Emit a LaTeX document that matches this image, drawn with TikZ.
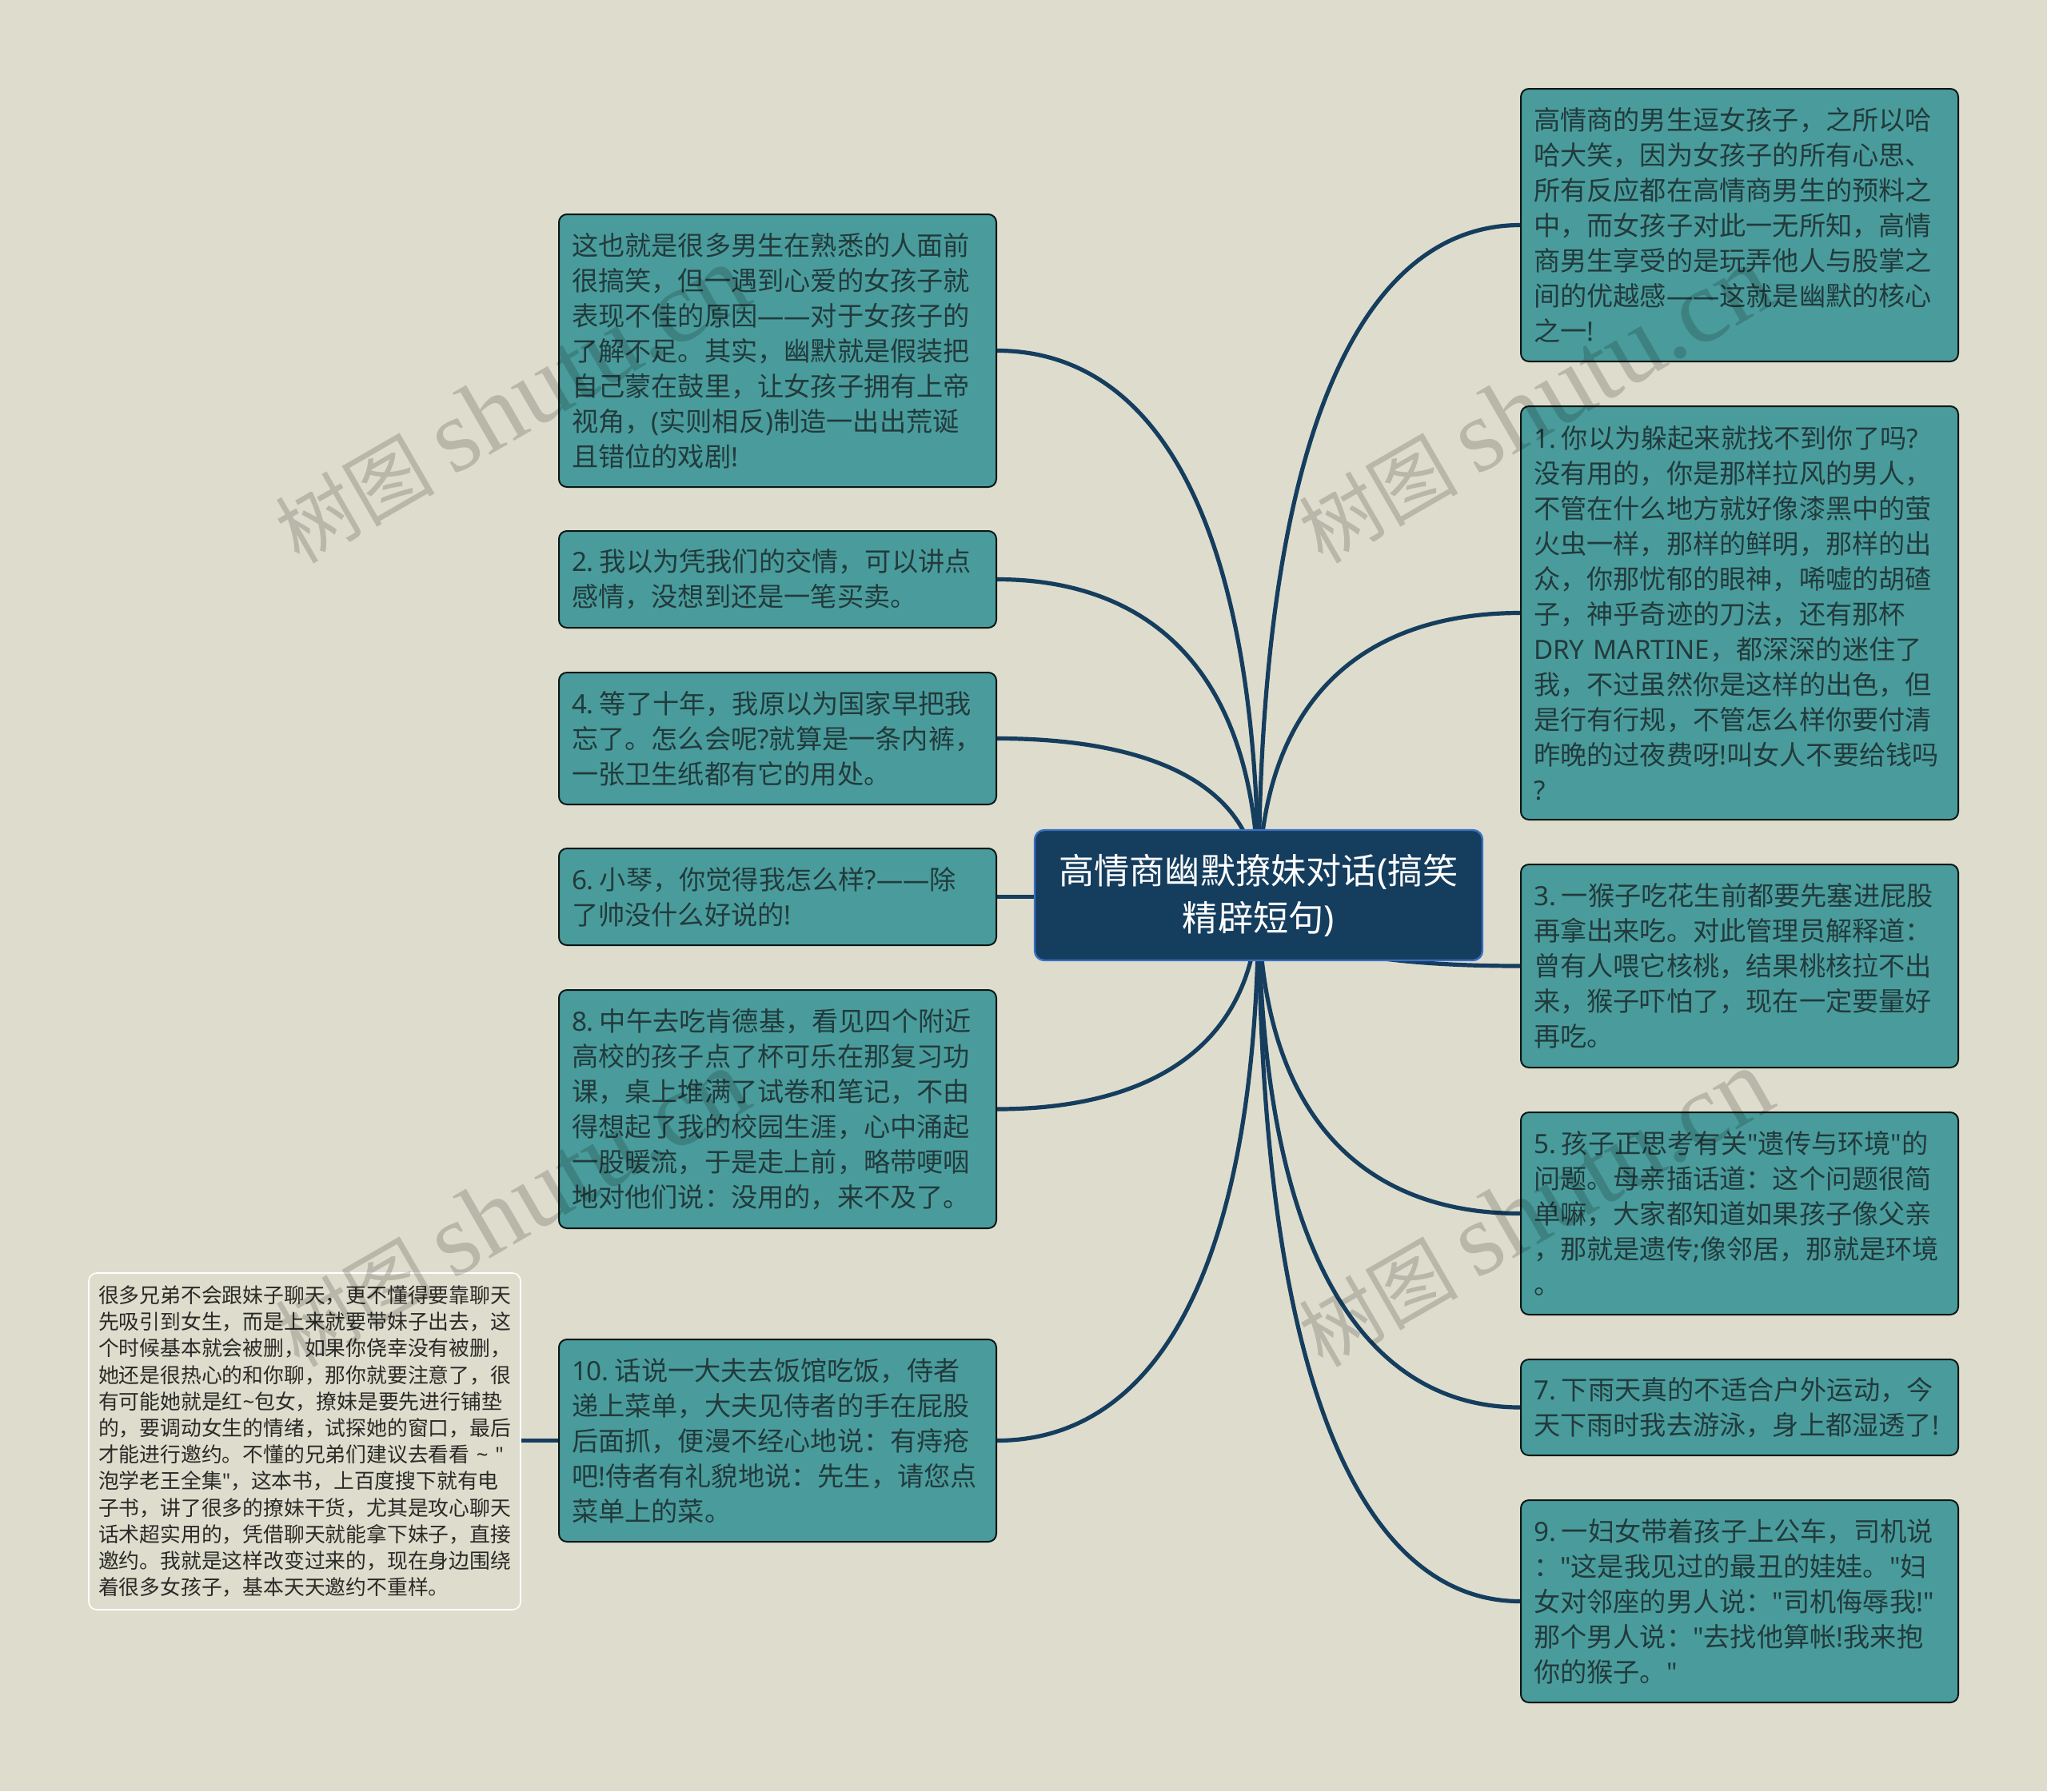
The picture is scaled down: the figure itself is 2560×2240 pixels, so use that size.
\documentclass[tikz,border=0pt]{standalone}
\usepackage{fontspec}
\usetikzlibrary{calc}
\setmainfont{Noto Sans CJK SC}
\newfontfamily\bodyf{Noto Sans CJK SC}
\newfontfamily\lat{Noto Sans}
\newfontfamily\wmserif{Liberation Serif}
\newcommand{\La}[1]{{\lat #1}}
\newcommand{\Ln}[1]{{\lat #1}\hspace{.21em}}
\definecolor{bgc}{HTML}{DEDDCD}
\definecolor{tealc}{HTML}{4A9C9C}
\definecolor{navyc}{HTML}{153D5E}
\definecolor{edgec}{HTML}{3A6FC4}
\definecolor{bodyc}{HTML}{223A3C}
\definecolor{smallc}{HTML}{2A2A28}
\tikzset{
  link/.style={draw=navyc,line width=2.6pt},
  tbox/.style={rectangle,rounded corners=5pt,draw=black!85!tealc,line width=1pt,fill=tealc,
    text=bodyc,minimum width=273.5pt,text width=257.5pt,inner sep=0pt,align=left,
    font=\bodyf\fontsize{16.6pt}{22pt}\selectfont},
  rootbox/.style={rectangle,rounded corners=6pt,draw=edgec,line width=1.2pt,fill=navyc,
    text=white,minimum width=280pt,minimum height=81.5pt,inner sep=0pt,align=center,
    font=\bodyf\fontsize{22.1pt}{29.5pt}\selectfont},
  notebox/.style={rectangle,rounded corners=5pt,draw=white,line width=.8pt,fill=bgc,
    text=smallc,minimum width=270pt,minimum height=210.5pt,text width=258pt,inner sep=0pt,align=left,
    font=\bodyf\fontsize{12.9pt}{16.6pt}\selectfont},
  wmark/.style={anchor=base west,inner sep=0pt,rotate=30,text=black,text opacity=.17,
    font=\bodyf\fontsize{50pt}{50pt}\selectfont},
  ghost/.style={draw=none,fill=none,text opacity=0},
}
\newcommand{\conn}[2]{\draw[link] (c.center) .. controls ($(c.center)!0.74!(c.center |- #1.#2)$) and ($(c.center |- #1.#2)!0.45!(#1.#2)$) .. (#1.#2);}
\newcommand{\wmtext}{树图 {\wmserif\fontsize{65pt}{65pt}\selectfont shutu.cn}}
\begin{document}
\begin{tikzpicture}[x=.5pt,y=-.5pt]
\useasboundingbox (0,0) rectangle (2560,2240);
\fill[bgc] (0,0) rectangle (2560,2240);
\path (1574,1119.5) node[rootbox,ghost] (c) {};
\path
 (2175.5,281.5) node[tbox,ghost,minimum height=170.5pt] (r1) {}
 (2175.5,766.5) node[tbox,ghost,minimum height=258.5pt] (r2) {}
 (2175.5,1208) node[tbox,ghost,minimum height=127pt] (r3) {}
 (2175.5,1517.5) node[tbox,ghost,minimum height=126.5pt] (r4) {}
 (2175.5,1760) node[tbox,ghost,minimum height=60pt] (r5) {}
 (2175.5,2002.5) node[tbox,ghost,minimum height=126.5pt] (r6) {}
 (972.5,438.5) node[tbox,ghost,minimum height=170.5pt] (l1) {}
 (972.5,724.5) node[tbox,ghost,minimum height=60.5pt] (l2) {}
 (972.5,923.5) node[tbox,ghost,minimum height=82.5pt] (l3) {}
 (972.5,1121.5) node[tbox,ghost,minimum height=60.5pt] (l4) {}
 (972.5,1387) node[tbox,ghost,minimum height=149pt] (l5) {}
 (972.5,1801.5) node[tbox,ghost,minimum height=126.5pt] (l6) {}
 (381,1802.5) node[notebox,ghost] (n) {};
\conn{r1}{west}\conn{r2}{west}\conn{r3}{west}\conn{r4}{west}\conn{r5}{west}\conn{r6}{west}
\conn{l1}{east}\conn{l2}{east}\conn{l3}{east}\conn{l5}{east}\conn{l6}{east}
\draw[link] (c.center |- l4.east) -- (l4.east);
\draw[link] (l6.west) -- (n.east |- l6.west);
% visible nodes
\node[rootbox] (root) at ($(c.center)+(0,0)$) {高情商幽默撩妹对话\La{(}搞笑\\精辟短句\La{)}};
\node[tbox,minimum height=170.5pt] (tr1) at (r1) {高情商的男生逗女孩子，之所以哈\\哈大笑，因为女孩子的所有心思、\\所有反应都在高情商男生的预料之\\中，而女孩子对此一无所知，高情\\商男生享受的是玩弄他人与股掌之\\间的优越感\La{——}这就是幽默的核心\\之一\La{!}};
\node[tbox,minimum height=258.5pt] (tr2) at (r2) {\Ln{1.}你以为躲起来就找不到你了吗\La{?}\\没有用的，你是那样拉风的男人，\\不管在什么地方就好像漆黑中的萤\\火虫一样，那样的鲜明，那样的出\\众，你那忧郁的眼神，唏嘘的胡碴\\子，神乎奇迹的刀法，还有那杯\\\La{DRY MARTINE}，都深深的迷住了\\我，不过虽然你是这样的出色，但\\是行有行规，不管怎么样你要付清\\昨晚的过夜费呀\La{!}叫女人不要给钱吗\\\La{?}};
\node[tbox,minimum height=127pt] (tr3) at (r3) {\Ln{3.}一猴子吃花生前都要先塞进屁股\\再拿出来吃。对此管理员解释道：\\曾有人喂它核桃，结果桃核拉不出\\来，猴子吓怕了，现在一定要量好\\再吃。};
\node[tbox,minimum height=126.5pt] (tr4) at (r4) {\Ln{5.}孩子正思考有关\La{"}遗传与环境\La{"}的\\问题。母亲插话道：这个问题很简\\单嘛，大家都知道如果孩子像父亲\\，那就是遗传\La{;}像邻居，那就是环境\\。};
\node[tbox,minimum height=60pt] (tr5) at (r5) {\Ln{7.}下雨天真的不适合户外运动，今\\天下雨时我去游泳，身上都湿透了\La{!}};
\node[tbox,minimum height=126.5pt] (tr6) at (r6) {\Ln{9.}一妇女带着孩子上公车，司机说\\：\La{"}这是我见过的最丑的娃娃。\La{"}妇\\女对邻座的男人说：\La{"}司机侮辱我\La{!"}\\那个男人说：\La{"}去找他算帐\La{!}我来抱\\你的猴子。\La{"}};
\node[tbox,minimum height=170.5pt] (tl1) at (l1) {这也就是很多男生在熟悉的人面前\\很搞笑，但一遇到心爱的女孩子就\\表现不佳的原因\La{——}对于女孩子的\\了解不足。其实，幽默就是假装把\\自己蒙在鼓里，让女孩子拥有上帝\\视角，\La{(}实则相反\La{)}制造一出出荒诞\\且错位的戏剧\La{!}};
\node[tbox,minimum height=60.5pt] (tl2) at (l2) {\Ln{2.}我以为凭我们的交情，可以讲点\\感情，没想到还是一笔买卖。};
\node[tbox,minimum height=82.5pt] (tl3) at (l3) {\Ln{4.}等了十年，我原以为国家早把我\\忘了。怎么会呢\La{?}就算是一条内裤，\\一张卫生纸都有它的用处。};
\node[tbox,minimum height=60.5pt] (tl4) at (l4) {\Ln{6.}小琴，你觉得我怎么样\La{?——}除\\了帅没什么好说的\La{!}};
\node[tbox,minimum height=149pt] (tl5) at (l5) {\Ln{8.}中午去吃肯德基，看见四个附近\\高校的孩子点了杯可乐在那复习功\\课，桌上堆满了试卷和笔记，不由\\得想起了我的校园生涯，心中涌起\\一股暖流，于是走上前，略带哽咽\\地对他们说：没用的，来不及了。};
\node[tbox,minimum height=126.5pt] (tl6) at (l6) {\Ln{10.}话说一大夫去饭馆吃饭，侍者\\递上菜单，大夫见侍者的手在屁股\\后面抓，便漫不经心地说：有痔疮\\吧\La{!}侍者有礼貌地说：先生，请您点\\菜单上的菜。};
\node[notebox] (tn) at (n) {很多兄弟不会跟妹子聊天，更不懂得要靠聊天\\先吸引到女生，而是上来就要带妹子出去，这\\个时候基本就会被删，如果你侥幸没有被删，\\她还是很热心的和你聊，那你就要注意了，很\\有可能她就是红\La{\textasciitilde}包女，撩妹是要先进行铺垫\\的，要调动女生的情绪，试探她的窗口，最后\\才能进行邀约。不懂的兄弟们建议去看看\La{ \textasciitilde{} "}\\泡学老王全集\La{"}，这本书，上百度搜下就有电\\子书，讲了很多的撩妹干货，尤其是攻心聊天\\话术超实用的，凭借聊天就能拿下妹子，直接\\邀约。我就是这样改变过来的，现在身边围绕\\着很多女孩子，基本天天邀约不重样。};
% watermarks
\node[wmark] (w1) at (374,707) {\wmtext};
\node[wmark] (w2) at (1654,707) {\wmtext};
\node[wmark] (w3) at (374,1712) {\wmtext};
\node[wmark] (w4) at (1654,1712) {\wmtext};
\end{tikzpicture}
\end{document}
